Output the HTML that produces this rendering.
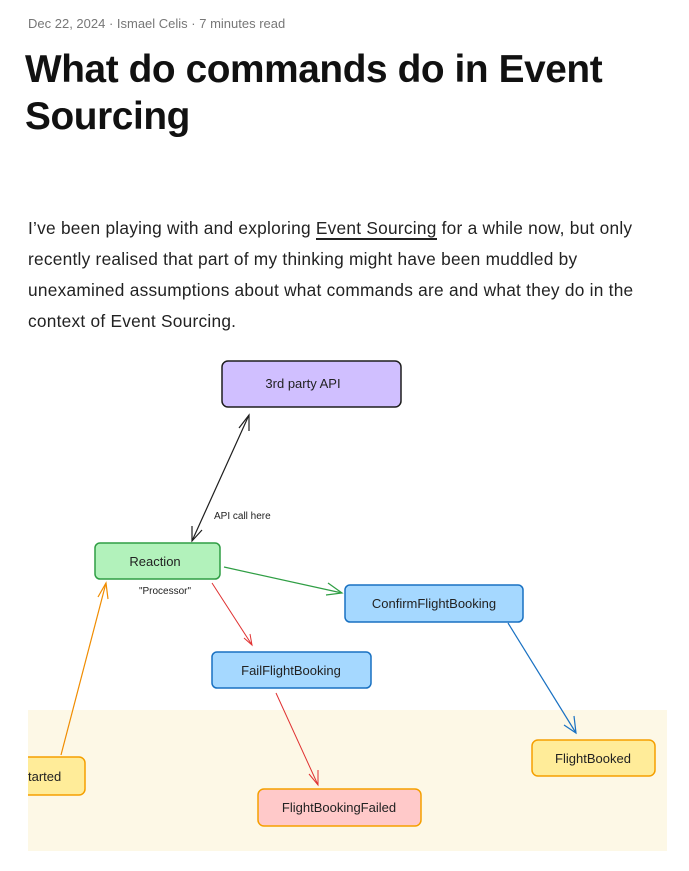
<!DOCTYPE html>
<html><head><meta charset="utf-8"><style>
body{margin:0;background:#fff;width:689px;height:871px;overflow:hidden;font-family:"Liberation Sans",sans-serif;color:#111;position:relative}
.meta{position:absolute;left:28px;top:16px;font-size:13px;color:#777}
h1{position:absolute;left:25px;top:46px;margin:0;font-size:38.8px;line-height:47px;font-weight:bold;letter-spacing:-0.4px;width:640px}
.p{position:absolute;left:28px;top:213px;width:640px;font-size:17.3px;line-height:31px;color:#222;letter-spacing:0.25px}
.p u{text-decoration:none;border-bottom:2px solid #222}
svg{position:absolute;left:0;top:0}
svg text{font-family:"Liberation Sans",sans-serif;fill:#222}
</style></head><body>
<div class="meta">Dec 22, 2024 · Ismael Celis · 7 minutes read</div>
<h1>What do commands do in Event Sourcing</h1>
<div class="p">I’ve been playing with and exploring <u>Event Sourcing</u> for a while now, but only<br>recently realised that part of my thinking might have been muddled by<br>unexamined assumptions about what commands are and what they do in the<br>context of Event Sourcing.</div>
<svg width="689" height="871">
<rect x="28" y="710" width="639" height="141" fill="#fdf8e6"/>
<rect x="222" y="361" width="179" height="46" rx="6" fill="#d0bfff" stroke="#1e1e1e" stroke-width="1.5"/>
<text x="303" y="388" font-size="13" text-anchor="middle">3rd party API</text>
<line x1="249" y1="415" x2="192" y2="541" stroke="#1e1e1e" stroke-width="1.2"/>
<polyline points="239,428 249,415 249,431" fill="none" stroke="#1e1e1e" stroke-width="1.2"/>
<polyline points="192,526 192,541 202,530" fill="none" stroke="#1e1e1e" stroke-width="1.2"/>
<text x="214" y="519" font-size="10">API call here</text>
<rect x="95" y="543" width="125" height="36" rx="5" fill="#b2f2bb" stroke="#2f9e44" stroke-width="1.5"/>
<text x="155" y="566" font-size="13" text-anchor="middle">Reaction</text>
<text x="165" y="594" font-size="10" text-anchor="middle">"Processor"</text>
<line x1="224" y1="567" x2="342" y2="593" stroke="#2f9e44" stroke-width="1.2"/>
<polyline points="328,583 342,593 326,595" fill="none" stroke="#2f9e44" stroke-width="1.2"/>
<rect x="345" y="585" width="178" height="37" rx="5" fill="#a5d8ff" stroke="#1971c2" stroke-width="1.5"/>
<text x="434" y="608" font-size="13" text-anchor="middle">ConfirmFlightBooking</text>
<line x1="212" y1="583" x2="252" y2="645" stroke="#e03131" stroke-width="1"/>
<polyline points="244,638 252,645 250,634" fill="none" stroke="#e03131" stroke-width="1"/>
<rect x="212" y="652" width="159" height="36" rx="5" fill="#a5d8ff" stroke="#1971c2" stroke-width="1.5"/>
<text x="291" y="675" font-size="13" text-anchor="middle">FailFlightBooking</text>
<line x1="276" y1="693" x2="318" y2="785" stroke="#e03131" stroke-width="1"/>
<polyline points="309,774 318,785 318,770" fill="none" stroke="#e03131" stroke-width="1"/>
<line x1="508" y1="623" x2="576" y2="733" stroke="#1971c2" stroke-width="1.2"/>
<polyline points="564,725 576,733 574,716" fill="none" stroke="#1971c2" stroke-width="1.2"/>
<line x1="61" y1="755" x2="106" y2="583" stroke="#f08c00" stroke-width="1.2"/>
<polyline points="98,597 106,583 108,599" fill="none" stroke="#f08c00" stroke-width="1.2"/>
<rect x="18" y="757" width="67" height="38" rx="6" fill="#ffec99" stroke="#f59f00" stroke-width="1.5"/>
<rect x="0" y="755" width="28" height="42" fill="#fff"/>
<text x="28" y="781" font-size="13">tarted</text>
<rect x="258" y="789" width="163" height="37" rx="6" fill="#ffc9c9" stroke="#f59f00" stroke-width="1.5"/>
<text x="339" y="812" font-size="13" text-anchor="middle">FlightBookingFailed</text>
<rect x="532" y="740" width="123" height="36" rx="6" fill="#ffec99" stroke="#f59f00" stroke-width="1.5"/>
<text x="593" y="763" font-size="13" text-anchor="middle">FlightBooked</text>
</svg>
</body></html>
